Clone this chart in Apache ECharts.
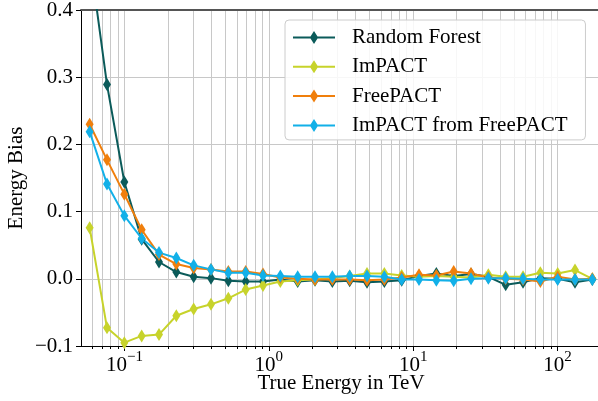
<!DOCTYPE html>
<html><head><meta charset="utf-8">
<script src="https://cdn.jsdelivr.net/npm/echarts@6/dist/echarts.min.js"></script>
<style>html,body{margin:0;padding:0;background:#fff}#c{width:598px;height:401px}</style>
</head><body><div id="c"></div>
<script>
// ---- data ----
const energies = [0.0574, 0.0757, 0.0998, 0.1316, 0.1735, 0.2287, 0.3016, 0.3976, 0.5243, 0.6913,
  0.9114, 1.2017, 1.5845, 2.0891, 2.7544, 3.6317, 4.7884, 6.3135, 8.3243, 10.976,
  14.471, 19.080, 25.157, 33.169, 43.733, 57.662, 76.027, 100.20, 132.11, 174.18];
const randomForest = [0.480, 0.289, 0.144, 0.059, 0.025, 0.010, 0.003, 0.001, -0.003, -0.004,
  -0.004, -0.001, -0.004, -0.002, -0.004, -0.003, -0.005, -0.004, -0.002, 0.004,
  0.008, 0.004, 0.007, 0.003, -0.009, -0.005, 0.001, 0.000, -0.005, -0.001];
const impact = [0.076, -0.073, -0.095, -0.085, -0.083, -0.055, -0.045, -0.038, -0.029, -0.016,
  -0.010, -0.004, -0.002, -0.001, 0.001, 0.004, 0.008, 0.008, 0.005, 0.003,
  0.004, 0.003, 0.002, 0.006, 0.003, 0.003, 0.009, 0.008, 0.013, 0.000];
const freePACT = [0.230, 0.177, 0.126, 0.073, 0.036, 0.022, 0.016, 0.014, 0.011, 0.011,
  0.007, 0.002, 0.000, -0.001, -0.001, -0.001, -0.002, -0.001, 0.002, 0.006,
  0.005, 0.011, 0.008, 0.002, 0.000, -0.001, -0.004, 0.003, -0.001, 0.000];
const impactFromFreePACT = [0.219, 0.141, 0.094, 0.060, 0.039, 0.031, 0.020, 0.014, 0.009, 0.009,
  0.005, 0.004, 0.003, 0.003, 0.003, 0.004, 0.004, 0.003, -0.001, -0.001,
  -0.002, -0.003, 0.000, 0.001, 0.001, 0.000, -0.001, -0.001, -0.001, -0.001];
const seriesNames = ['Random Forest', 'ImPACT', 'FreePACT', 'ImPACT from FreePACT'];
const seriesValues = [randomForest, impact, freePACT, impactFromFreePACT];
const seriesColors = ['#0b5b5a', '#c7d32b', '#f07f0c', '#12b0e8'];

const xTickValues = [0.1, 1, 10, 100];
const xTickExponents = ['\u22121', '0', '1', '2'];
const xMinorTickValues = [0.06, 0.07, 0.08, 0.09, 0.2, 0.3, 0.4, 0.5, 0.6, 0.7, 0.8, 0.9,
  2, 3, 4, 5, 6, 7, 8, 9, 20, 30, 40, 50, 60, 70, 80, 90];
const yTickValues = [-0.1, 0, 0.1, 0.2, 0.3, 0.4];
const yTickLabels = ['\u22120.1', '0.0', '0.1', '0.2', '0.3', '0.4'];

// ---- chart ----
const FONT = 'Liberation Serif';
const FS = 21;
const gridColor = '#c8c8c8';
const legendIcon = 'path://M0,6 L17.5,6 L21,0.5 L24.5,6 L42,6 L42,8 L24.5,8 L21,13.5 L17.5,8 L0,8 Z';

const chart = echarts.init(document.getElementById('c'), null, {renderer: 'canvas'});
const option = {
  animation: false,
  backgroundColor: '#fff',
  grid: {left: 81, top: 10, width: 520, height: 336, outerBoundsMode: 'none', containLabel: false},
  legend: {
    orient: 'vertical', left: 285, top: 20,
    padding: [7, 18, 4, 8],
    itemWidth: 42, itemHeight: 14, itemGap: 8.3,
    backgroundColor: 'rgba(255,255,255,0.85)', borderColor: '#cccccc', borderWidth: 1, borderRadius: 4,
    textStyle: {fontFamily: FONT, fontSize: FS, color: '#000', lineHeight: 20, padding: [0, 0, 0, 12]},
    data: seriesNames.map(n => ({name: n, icon: legendIcon}))
  },
  xAxis: [
    {
      type: 'log', logBase: 10, min: 0.05, max: 200, position: 'bottom',
      axisLine: {show: true, onZero: false, lineStyle: {color: '#000', width: 1}},
      axisTick: {show: true, inside: false, length: 5, customValues: xTickValues, lineStyle: {color: '#000', width: 1}},
      axisLabel: {
        show: true, customValues: xTickValues, margin: 4,
        formatter: function (v) {
          const i = xTickValues.findIndex(t => Math.abs(t - v) / t < 1e-6);
          return i < 0 ? '' : '{b|10}{s|' + xTickExponents[i] + '}';
        },
        rich: {
          b: {fontFamily: FONT, fontSize: FS, color: '#000', lineHeight: 26, verticalAlign: 'bottom'},
          s: {fontFamily: FONT, fontSize: 15, color: '#000', lineHeight: 15, verticalAlign: 'top'}
        }
      },
      splitLine: {show: true, lineStyle: {color: gridColor, width: 1}},
      name: 'True Energy in TeV', nameLocation: 'middle', nameGap: 27, nameMoveOverlap: false,
      nameTextStyle: {fontFamily: FONT, fontSize: FS, color: '#000'}
    },
    {
      type: 'log', logBase: 10, min: 0.05, max: 200, position: 'bottom',
      axisLine: {show: false, onZero: false},
      axisTick: {show: true, inside: false, length: 3, customValues: xMinorTickValues, lineStyle: {color: '#000', width: 1}},
      axisLabel: {show: false},
      splitLine: {show: true, lineStyle: {color: gridColor, width: 1}}
    },
    {
      type: 'log', logBase: 10, min: 0.05, max: 200, position: 'top',
      axisLine: {show: true, onZero: false, lineStyle: {color: '#555', width: 2}},
      axisTick: {show: false}, axisLabel: {show: false}, splitLine: {show: false}
    }
  ],
  yAxis: {
    type: 'value', min: -0.1, max: 0.4, interval: 0.1,
    axisLine: {show: true, onZero: false, lineStyle: {color: '#000', width: 1}},
    axisTick: {show: true, inside: false, length: 5, lineStyle: {color: '#000', width: 1}},
    axisLabel: {
      margin: 8, fontFamily: FONT, fontSize: FS, color: '#000',
      formatter: function (v) {
        const i = yTickValues.findIndex(t => Math.abs(t - v) < 1e-9);
        return i < 0 ? '' : yTickLabels[i];
      }
    },
    splitLine: {show: true, lineStyle: {color: gridColor, width: 1}},
    name: 'Energy Bias', nameLocation: 'middle', nameGap: 54, nameRotate: 90, nameMoveOverlap: false,
    nameTextStyle: {fontFamily: FONT, fontSize: FS, color: '#000'}
  },
  series: seriesNames.map((name, k) => ({
    name: name, type: 'line', xAxisIndex: 0,
    data: energies.map((e, i) => [e, seriesValues[k][i]]),
    symbol: 'diamond', symbolSize: [8, 13],
    color: seriesColors[k],
    lineStyle: {width: 2, color: seriesColors[k]},
    itemStyle: {color: seriesColors[k], borderWidth: 0},
    clip: true
  }))
};
chart.setOption(option);
</script></body></html>
